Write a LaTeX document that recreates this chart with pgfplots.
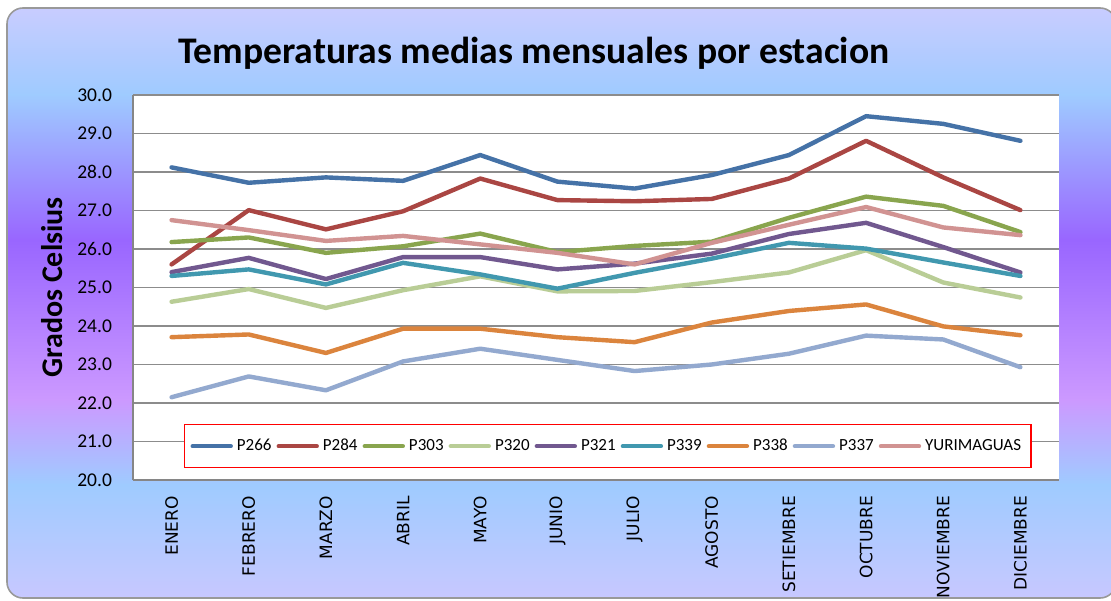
\documentclass[border=0pt]{standalone}
\usepackage{fontspec}
\setmainfont{Carlito}
\newfontfamily\dejavu{DejaVu Sans}
\usepackage{pgfplots}
\usepackage{pgfplotstable}
\pgfplotsset{compat=1.18}

\definecolor{cP266}{HTML}{4572A7}
\definecolor{cP284}{HTML}{AA4643}
\definecolor{cP303}{HTML}{89A54E}
\definecolor{cP320}{HTML}{B9CD96}
\definecolor{cP321}{HTML}{71588F}
\definecolor{cP339}{HTML}{4198AF}
\definecolor{cP338}{HTML}{DB843D}
\definecolor{cP337}{HTML}{93A9CF}
\definecolor{cYUR}{HTML}{D19392}
\definecolor{bgA}{HTML}{CCCCFF}
\definecolor{bgB}{HTML}{9FCBFF}
\definecolor{bgC}{HTML}{9966FF}
\definecolor{bgD}{HTML}{CC99FF}
\definecolor{bgE}{HTML}{C8C8FF}
\definecolor{gridgray}{HTML}{8C8C8C}
\definecolor{axisgray}{HTML}{868686}

% monthly means, one column per station
\pgfplotstableread{
x  P266  P284  P303  P320  P321  P339  P338  P337  YUR
0  28.12 25.60 26.18 24.63 25.40 25.30 23.71 22.15 26.75
1  27.72 27.01 26.30 24.96 25.77 25.47 23.78 22.69 26.49
2  27.86 26.51 25.90 24.47 25.22 25.08 23.30 22.33 26.21
3  27.77 26.98 26.07 24.93 25.79 25.64 23.93 23.08 26.34
4  28.44 27.83 26.40 25.29 25.79 25.34 23.93 23.41 26.12
5  27.75 27.27 25.92 24.90 25.47 24.97 23.71 23.12 25.90
6  27.57 27.24 26.08 24.91 25.62 25.38 23.58 22.83 25.60
7  27.92 27.30 26.19 25.14 25.88 25.75 24.09 23.00 26.16
8  28.44 27.83 26.81 25.39 26.39 26.16 24.39 23.28 26.63
9  29.45 28.81 27.36 25.97 26.68 26.01 24.56 23.75 27.09
10 29.25 27.86 27.12 25.13 26.05 25.65 23.99 23.65 26.56
11 28.81 27.01 26.44 24.74 25.39 25.30 23.76 22.93 26.36
}\datatable

\begin{document}
\begin{tikzpicture}
\useasboundingbox (0pt,0pt) rectangle (555.5pt,300pt);
% chart area background
\begin{scope}
\clip[rounded corners=8pt] (3.5pt,1pt) rectangle (558pt,296pt);
\shade[top color=bgA, bottom color=bgB] (0pt,252.5pt) rectangle (560pt,300pt);
\shade[top color=bgB, bottom color=bgC] (0pt,180pt) rectangle (560pt,252.6pt);
\shade[top color=bgC, bottom color=bgD] (0pt,100pt) rectangle (560pt,180.1pt);
\shade[top color=bgD, bottom color=bgB] (0pt,57.5pt) rectangle (560pt,100.1pt);
\shade[top color=bgB, bottom color=bgE] (0pt,0pt) rectangle (560pt,57.6pt);
\end{scope}
\draw[gray!80, line width=0.8pt, rounded corners=8pt] (3.5pt,1pt) rectangle (558pt,296pt);

\begin{axis}[
    at={(66.5pt,60pt)}, anchor=south west,
    scale only axis, width=463pt, height=192.5pt,
    xmin=-0.5, xmax=11.5, ymin=20, ymax=30,
    xtick={0,...,11},
    xticklabels={ENERO,FEBRERO,MARZO,ABRIL,MAYO,JUNIO,JULIO,AGOSTO,SETIEMBRE,OCTUBRE,NOVIEMBRE,DICIEMBRE},
    ytick={20,21,...,30},
    axis background/.style={fill=white},
    axis x line*=bottom, axis y line*=left,
    axis line style={draw=axisgray, line width=1pt},
    major tick length=0pt,
    ymajorgrids, grid style={draw=gridgray, line width=0.8pt},
    /pgf/number format/assume math mode=true,
    yticklabel style={font=\fontsize{9.75}{11}\selectfont,
        /pgf/number format/fixed, /pgf/number format/fixed zerofill,
        /pgf/number format/precision=1},
    yticklabel shift=7pt,
    xticklabel style={rotate=90, anchor=east, font=\dejavu\fontsize{8.5}{10}\selectfont},
    xticklabel shift=4.5pt,
    title={Temperaturas medias mensuales por estacion},
    title style={at={(axis description cs:0.433,1.078)}, anchor=center,
        font=\bfseries\fontsize{18.8}{22}\selectfont},
    ylabel={Grados Celsius},
    ylabel style={at={(axis description cs:-0.0875,0.5)}, anchor=center,
        font=\bfseries\fontsize{15}{17}\selectfont},
    every axis plot/.append style={line width=2.2pt, line cap=round, line join=round},
    legend columns=-1,
    legend image code/.code={\draw[#1, line width=2.2pt, line cap=round] (0pt,0pt) -- (19pt,0pt);},
    legend style={at={(axis description cs:0.055,0.031)}, anchor=south west,
        draw=red, fill=white, line width=0.6pt,
        font=\fontsize{8.5}{10}\selectfont, inner ysep=5pt, inner xsep=3pt,
        /tikz/every even column/.append style={column sep=0.5pt}},
]
\addplot[cP266, no markers] table[x=x, y=P266] {\datatable};
\addlegendentry{P266}
\addplot[cP284, no markers] table[x=x, y=P284] {\datatable};
\addlegendentry{P284}
\addplot[cP303, no markers] table[x=x, y=P303] {\datatable};
\addlegendentry{P303}
\addplot[cP320, no markers] table[x=x, y=P320] {\datatable};
\addlegendentry{P320}
\addplot[cP321, no markers] table[x=x, y=P321] {\datatable};
\addlegendentry{P321}
\addplot[cP339, no markers] table[x=x, y=P339] {\datatable};
\addlegendentry{P339}
\addplot[cP338, no markers] table[x=x, y=P338] {\datatable};
\addlegendentry{P338}
\addplot[cP337, no markers] table[x=x, y=P337] {\datatable};
\addlegendentry{P337}
\addplot[cYUR, no markers] table[x=x, y=YUR] {\datatable};
\addlegendentry{YURIMAGUAS}
\end{axis}
\end{tikzpicture}
\end{document}
